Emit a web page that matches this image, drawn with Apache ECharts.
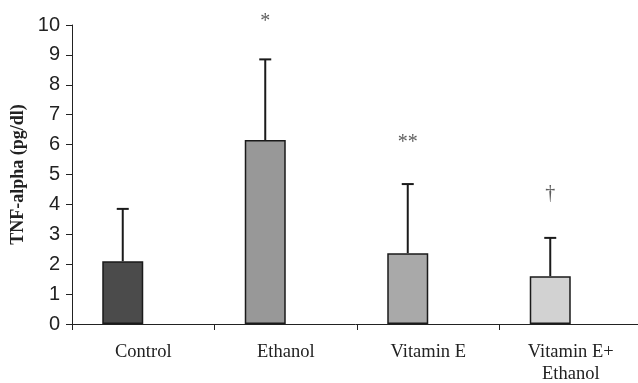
<!DOCTYPE html>
<html>
<head>
<meta charset="utf-8">
<script src="https://cdn.jsdelivr.net/npm/echarts@6/dist/echarts.min.js"></script>
<style>
html,body{margin:0;padding:0;background:#fff;}
#chart{width:638px;height:383px;}
</style>
</head>
<body>
<div id="chart"></div>
<script>
var categories = ['Control', 'Ethanol', 'Vitamin E', 'Vitamin E+\nEthanol'];
var means = [2.1, 6.15, 2.37, 1.6];
var upperErrors = [3.85, 8.85, 4.68, 2.88];
var barColors = ['#4b4b4b', '#989898', '#a9a9a9', '#d2d2d2'];
var annotationText = ['', '*', '**', '\u2020'];
var annotationY = [null, 10.1, 6.05, 4.35];
var yTicks = [0, 1, 2, 3, 4, 5, 6, 7, 8, 9, 10];

var BAR_W = 41;
var SHIFT = -BAR_W / 2;

var chart = echarts.init(document.getElementById('chart'));

var barData = means.map(function (v, i) {
  return { value: v, itemStyle: { color: barColors[i] } };
});
var emptyData = means.map(function () { return '-'; });
var errData = means.map(function (v, i) { return [i, v, upperErrors[i]]; });
var annData = [];
annotationText.forEach(function (t, i) {
  if (t) annData.push({ value: [i, annotationY[i]], label: { formatter: t } });
});

chart.setOption({
  animation: false,
  backgroundColor: '#ffffff',
  grid: { left: 72, top: 25, bottom: 59, width: 570, containLabel: false, outerBoundsMode: 'none' },
  xAxis: {
    type: 'category',
    data: categories,
    axisLine: { lineStyle: { color: '#222', width: 1 } },
    axisTick: { show: true, length: 6, alignWithLabel: false, lineStyle: { color: '#222' } },
    axisLabel: {
      margin: 17,
      fontFamily: 'Liberation Serif',
      fontSize: 18.5,
      lineHeight: 22,
      color: '#222',
      interval: 0
    }
  },
  yAxis: {
    type: 'value',
    min: yTicks[0],
    max: yTicks[yTicks.length - 1],
    interval: 1,
    name: 'TNF-alpha (pg/dl)',
    nameLocation: 'middle',
    nameRotate: 90,
    nameGap: 45,
    nameMoveOverlap: false,
    nameTextStyle: {
      fontFamily: 'Liberation Serif',
      fontWeight: 'bold',
      fontSize: 18,
      color: '#222'
    },
    axisLine: { show: true, lineStyle: { color: '#222', width: 1 } },
    axisTick: { show: true, length: 6, lineStyle: { color: '#222' } },
    splitLine: { show: false },
    axisLabel: {
      margin: 12,
      fontFamily: 'Liberation Sans',
      fontSize: 20,
      color: '#222'
    }
  },
  series: [
    {
      type: 'custom',
      z: 1,
      renderItem: function (params, api) {
        var x = api.value(0);
        var lo = api.coord([x, api.value(1)]);
        var hi = api.coord([x, api.value(2)]);
        var cx = lo[0] + SHIFT;
        var half = 6;
        return {
          type: 'group',
          children: [
            { type: 'line', shape: { x1: cx, y1: lo[1], x2: cx, y2: hi[1] },
              style: { stroke: '#1a1a1a', lineWidth: 2 } },
            { type: 'line', shape: { x1: cx - half, y1: hi[1], x2: cx + half, y2: hi[1] },
              style: { stroke: '#1a1a1a', lineWidth: 2 } }
          ]
        };
      },
      data: errData
    },
    {
      type: 'bar',
      z: 2,
      barWidth: BAR_W,
      barGap: '0%',
      data: barData,
      itemStyle: { borderColor: '#1a1a1a', borderWidth: 1.5 }
    },
    {
      type: 'bar',
      z: 2,
      barWidth: BAR_W,
      barGap: '0%',
      data: emptyData
    },
    {
      type: 'scatter',
      clip: false,
      symbolSize: 0,
      z: 3,
      data: annData,
      label: {
        show: true,
        position: 'inside',
        offset: [SHIFT, 0],
        fontFamily: 'Liberation Serif',
        fontSize: 20,
        color: '#333'
      }
    }
  ]
});
</script>
</body>
</html>
